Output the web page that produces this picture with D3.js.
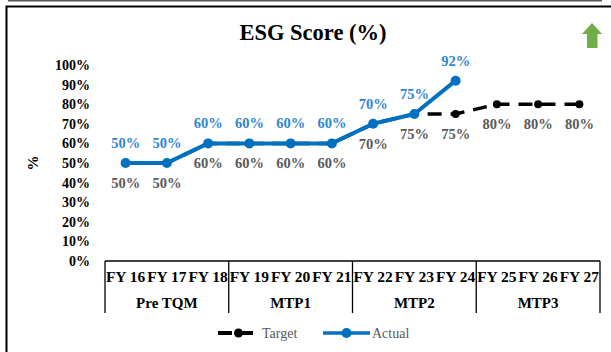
<!DOCTYPE html>
<html><head><meta charset="utf-8">
<script src="https://cdn.jsdelivr.net/npm/d3@7"></script>
<style>
html,body{margin:0;padding:0;background:#fff;}
svg{display:block;font-family:"Liberation Serif","Times New Roman",serif;}
</style></head>
<body><svg id="c" width="611" height="352"></svg>
<script>
const categories = ["FY 16","FY 17","FY 18","FY 19","FY 20","FY 21","FY 22","FY 23","FY 24","FY 25","FY 26","FY 27"];
const groups = [
  {name:"Pre TQM", from:"FY 16", to:"FY 18"},
  {name:"MTP1", from:"FY 19", to:"FY 21"},
  {name:"MTP2", from:"FY 22", to:"FY 24"},
  {name:"MTP3", from:"FY 25", to:"FY 27"}
];
const targetValues = [0.50,0.50,0.60,0.60,0.60,0.60,0.70,0.75,0.75,0.80,0.80,0.80];
const actualValues = [0.50,0.50,0.60,0.60,0.60,0.60,0.70,0.75,0.92];
const yTicks = [0,0.1,0.2,0.3,0.4,0.5,0.6,0.7,0.8,0.9,1.0];

const svg = d3.select("#c");
const x = d3.scaleBand().domain(categories).range([105,600]);
const y = d3.scaleLinear().domain([0,1]).range([261,65]);
const cx = c => x(c) + x.bandwidth()/2;
const fmt = d3.format(".0%");

// outer frame
svg.append("line").attr("x1",8).attr("x2",602).attr("y1",0.75).attr("y2",0.75).attr("stroke","#555").attr("stroke-width",1.5);
svg.append("path").attr("d","M6.5,352V6.5H611").attr("fill","none").attr("stroke","#000").attr("stroke-width",2);

// title
svg.append("text").attr("x",313).attr("y",40).attr("text-anchor","middle")
  .attr("font-size",22.5).attr("font-weight","bold").text("ESG Score (%)");

// green arrow
svg.append("path").attr("d","M582,34L592,23L602,34L597.5,34L597.5,48L587,48L587,34Z").attr("fill","#70AD47");

// y axis
const yAxis = d3.axisLeft(y).tickValues(yTicks).tickFormat(fmt).tickSize(0).tickPadding(0);
const ga = svg.append("g").attr("transform","translate(90,0)").call(yAxis);
ga.select(".domain").remove();
ga.selectAll("text").attr("font-family","Liberation Serif").attr("font-size",14).attr("font-weight","bold").attr("fill","#000");

svg.append("text").attr("transform","translate(38,163) rotate(-90)").attr("text-anchor","middle")
  .attr("font-size",15).attr("font-weight","bold").text("%");

// category axis box
const axG = svg.append("g").attr("stroke","#000").attr("stroke-width",1.3);
axG.append("line").attr("x1",105).attr("x2",600).attr("y1",261).attr("y2",261);
const bounds = [105].concat(groups.map(g => x(g.to)+x.bandwidth()));
bounds.forEach(b => axG.append("line").attr("x1",b).attr("x2",b).attr("y1",261).attr("y2",313));

svg.append("g").selectAll("text").data(categories).join("text")
  .attr("x",d=>cx(d)).attr("y",282).attr("text-anchor","middle")
  .attr("font-size",15.5).attr("font-weight","bold").text(d=>d);
svg.append("g").selectAll("text").data(groups).join("text")
  .attr("x",g=>(x(g.from)+x(g.to)+x.bandwidth())/2).attr("y",308).attr("text-anchor","middle")
  .attr("font-size",15).attr("font-weight","bold").text(g=>g.name);

// target line
const tData = targetValues.map((v,i)=>({c:categories[i],v}));
const aData = actualValues.map((v,i)=>({c:categories[i],v}));
const line = d3.line().x(d=>cx(d.c)).y(d=>y(d.v));
svg.append("path").datum(tData).attr("d",line).attr("fill","none").attr("stroke","#000")
  .attr("stroke-width",3.5).attr("stroke-dasharray","14,9").attr("stroke-dashoffset",10);
svg.append("g").selectAll("circle").data(tData).join("circle")
  .attr("cx",d=>cx(d.c)).attr("cy",d=>y(d.v)).attr("r",4).attr("fill","#000");

// actual line
svg.append("path").datum(aData).attr("d",line).attr("fill","none").attr("stroke","#0070C0").attr("stroke-width",4).attr("stroke-linejoin","round");
svg.append("g").selectAll("circle").data(aData).join("circle")
  .attr("cx",d=>cx(d.c)).attr("cy",d=>y(d.v)).attr("r",5).attr("fill","#0070C0");

// labels
svg.append("g").selectAll("text").data(tData).join("text")
  .attr("x",d=>cx(d.c)).attr("y",d=>y(d.v)+25).attr("text-anchor","middle")
  .attr("font-size",14.5).attr("font-weight","bold").attr("fill","#595959").text(d=>fmt(d.v));
svg.append("g").selectAll("text").data(aData).join("text")
  .attr("x",d=>cx(d.c)).attr("y",d=>y(d.v)-15).attr("text-anchor","middle")
  .attr("font-size",14.5).attr("font-weight","bold").attr("fill","#2E86D1").text(d=>fmt(d.v));

// legend
const lg = svg.append("g");
lg.append("line").attr("x1",218).attr("x2",259).attr("y1",333).attr("y2",333).attr("stroke","#000").attr("stroke-width",4).attr("stroke-dasharray","14,7");
lg.append("circle").attr("cx",238.5).attr("cy",333).attr("r",4.5).attr("fill","#000");
lg.append("text").attr("x",262).attr("y",338).attr("font-size",14).attr("fill","#595959").text("Target");
lg.append("line").attr("x1",323).attr("x2",370).attr("y1",333).attr("y2",333).attr("stroke","#0070C0").attr("stroke-width",3.5);
lg.append("circle").attr("cx",346.5).attr("cy",333).attr("r",5).attr("fill","#0070C0");
lg.append("text").attr("x",372).attr("y",338).attr("font-size",14).attr("fill","#595959").text("Actual");
</script></body></html>
